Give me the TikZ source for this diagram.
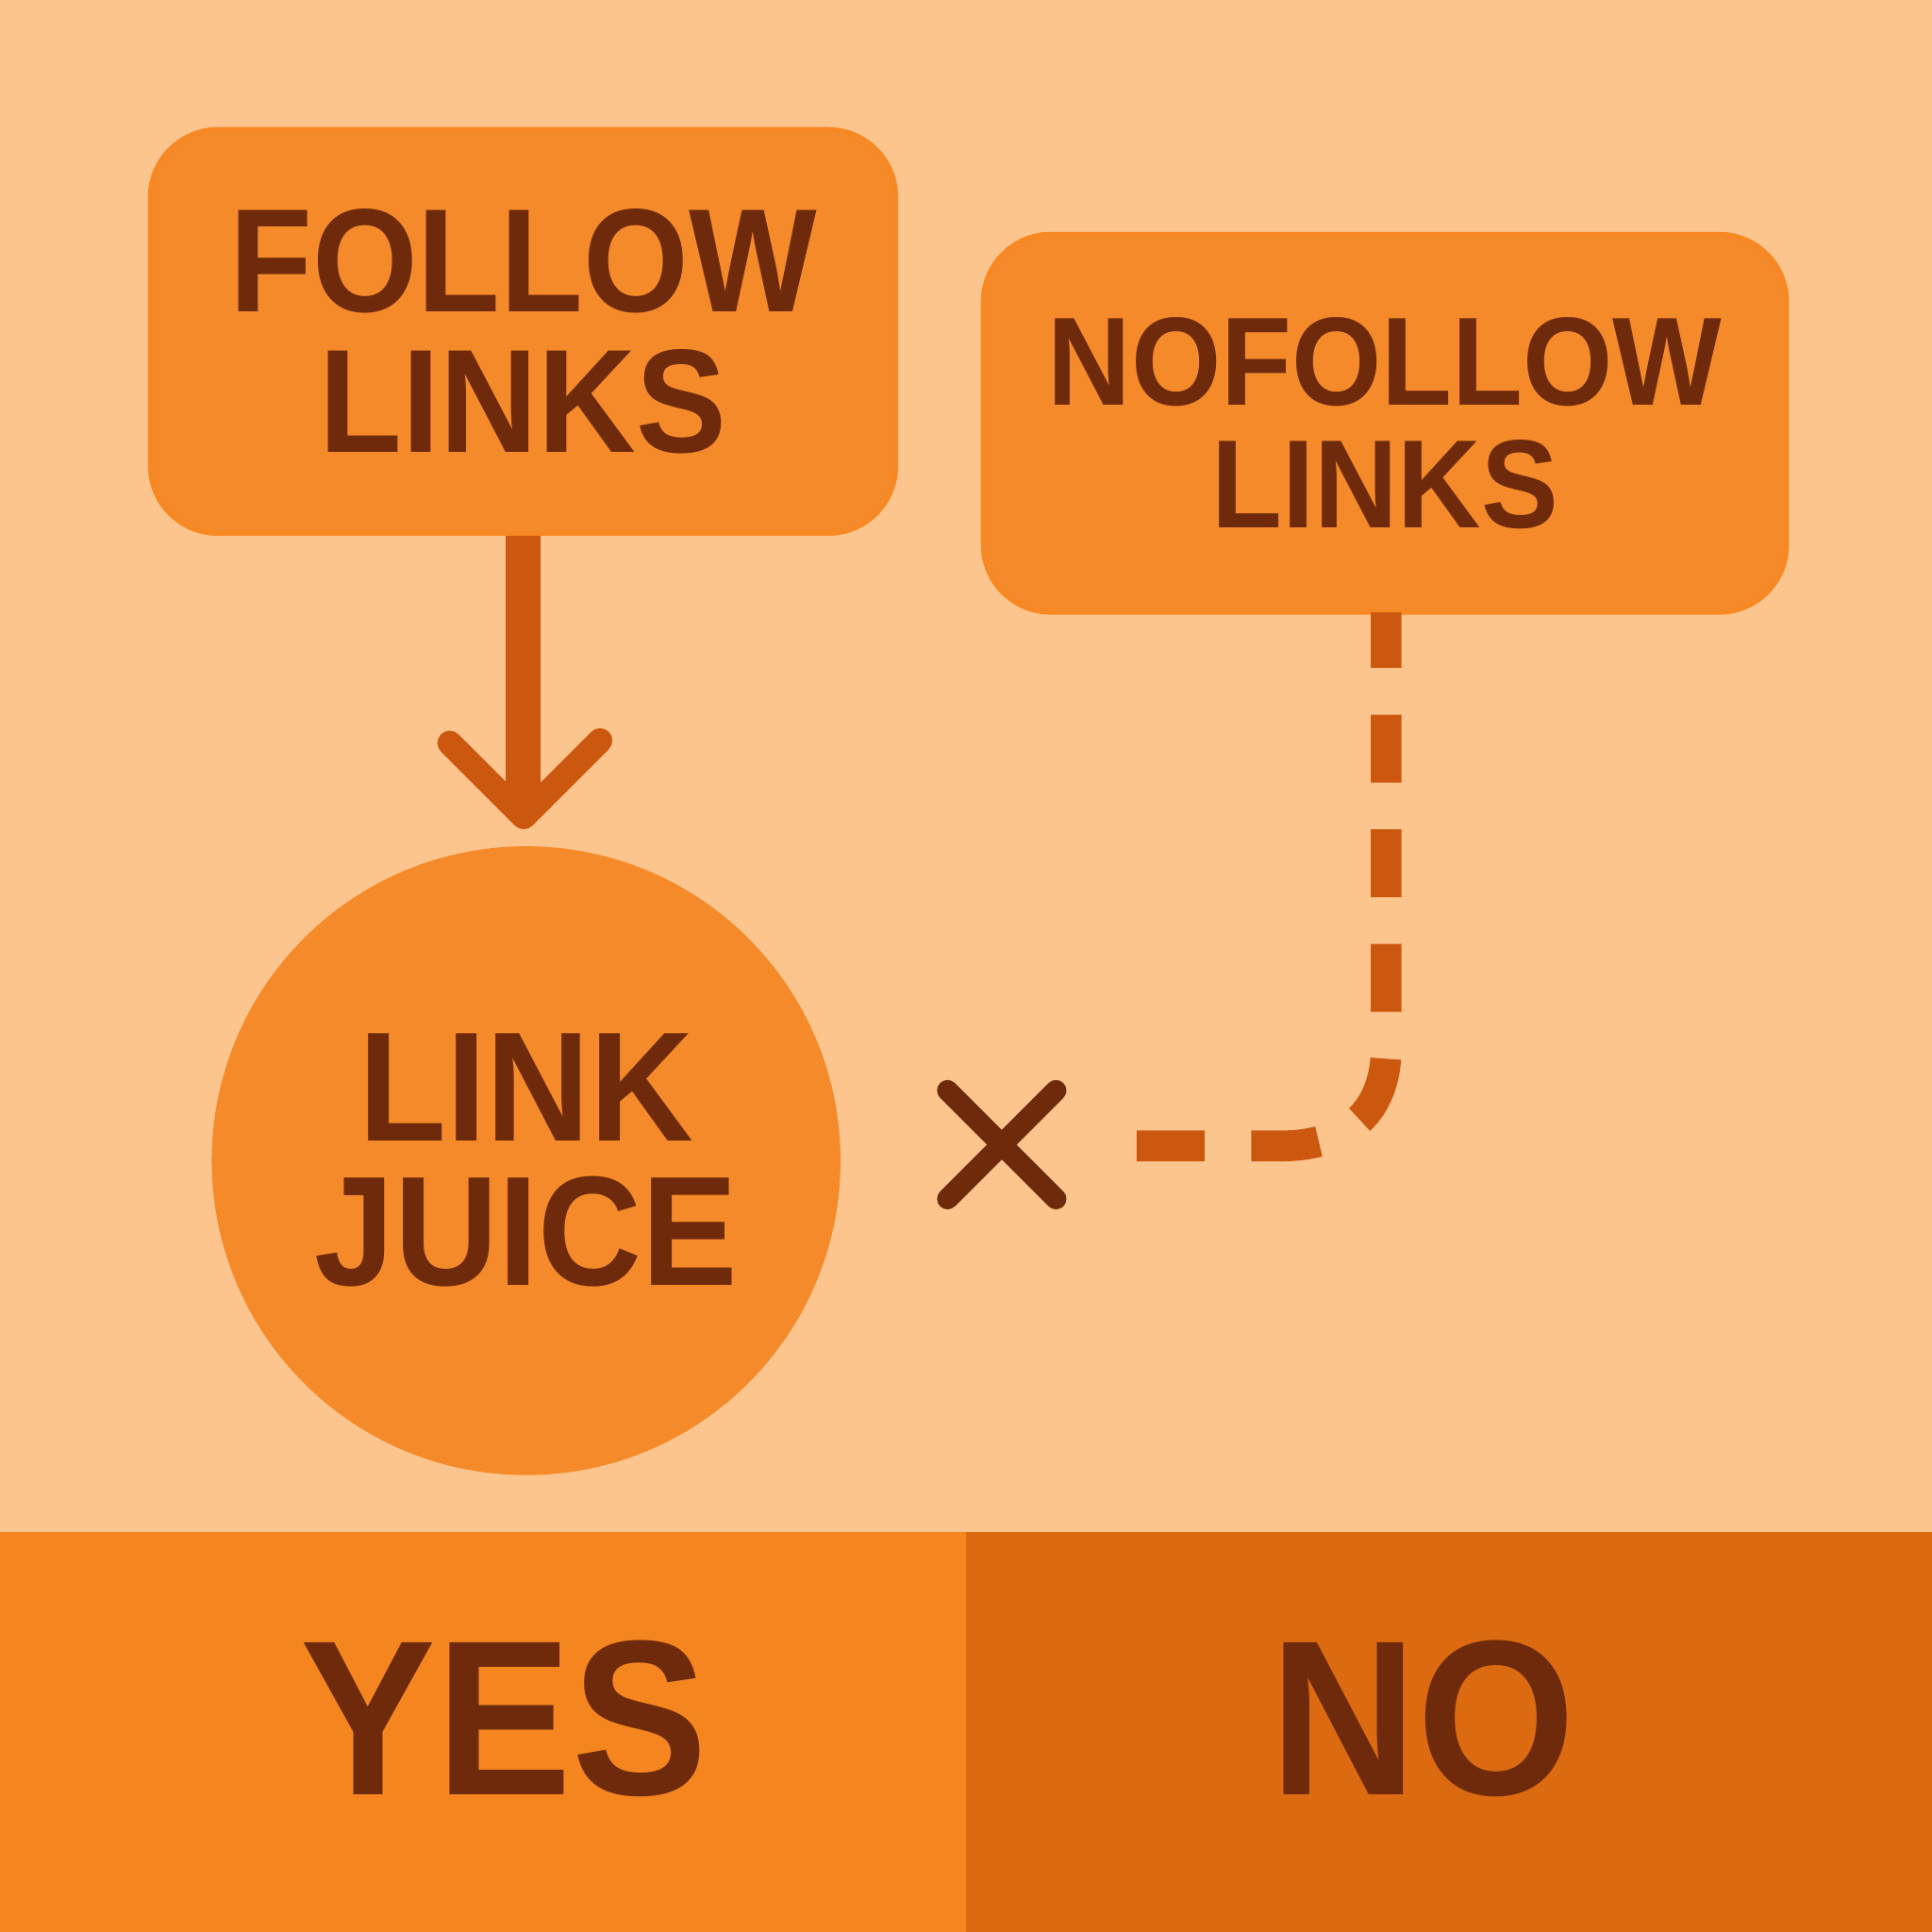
\documentclass[tikz,border=0pt]{standalone}
\usepackage{fontspec}
\setmainfont{Liberation Sans}
\newfontfamily\labfont[FakeStretch=0.92]{Liberation Sans}
\usetikzlibrary{arrows.meta,calc}
\definecolor{bg}{HTML}{FDC58E}
\definecolor{boxc}{HTML}{F58A2A}
\definecolor{txt}{HTML}{6E2A0B}
\definecolor{lin}{HTML}{CC5810}
\definecolor{yesc}{HTML}{F5861F}
\definecolor{noc}{HTML}{DB6A10}
\tikzset{
 lab/.style={text=txt,align=center},
 boxs/.style={fill=boxc,draw=boxc!80!orange,rounded corners=0.55cm,line width=1pt},
}
\begin{document}
\begin{tikzpicture}[x=0.01cm,y=-0.01cm]
\useasboundingbox (0,0) rectangle (1568,1568);
\fill[bg] (0,0) rectangle (1568,1243);
\fill[yesc] (0,1243) rectangle (784,1568);
\fill[noc] (784,1243) rectangle (1568,1568);
\node[lab,font=\labfont\bfseries\fontsize{51}{55}\selectfont] (yes) at (409,1395) {YES};
\node[lab,font=\labfont\bfseries\fontsize{51}{55}\selectfont] (no) at (1155,1395) {NO};
\node[boxs,minimum width=6.05cm,minimum height=3.28cm] (follow) at (424.5,269) {};
\node[lab,font=\labfont\bfseries\fontsize{34}{32.5}\selectfont] at (follow) {FOLLOW\\LINKS};
\node[boxs,minimum width=6.52cm,minimum height=3.07cm] (nofollow) at (1124,343.5) {};
\node[lab,font=\labfont\bfseries\fontsize{29}{28.2}\selectfont] at (nofollow) {NOFOLLOW\\LINKS};
\node[circle,fill=boxc,minimum size=5.1cm,inner sep=0] (juice) at (427,942) {};
\node[lab,font=\labfont\bfseries\fontsize{36}{33.3}\selectfont] at (juice) {LINK\\JUICE};
\draw[lin,line width=0.28cm] (follow.south) -- ++(0,220);
\draw[lin,line width=0.2cm,line cap=round,line join=round] (365,603) -- (425,663) -- (487,601);
\coordinate (xm) at (813,929);
\draw[lin,line width=0.25cm,dash pattern=on 0.55cm off 0.38cm,dash phase=0.1cm]
 (1125,497) -- (1125,850) .. controls (1125,905) and (1090,930) .. (1040,930) -- (915,930);
\draw[txt,line width=0.17cm,line cap=round] ($(xm)+(-44,-44)$) -- ($(xm)+(44,44)$);
\draw[txt,line width=0.17cm,line cap=round] ($(xm)+(-44,44)$) -- ($(xm)+(44,-44)$);
\end{tikzpicture}
\end{document}
